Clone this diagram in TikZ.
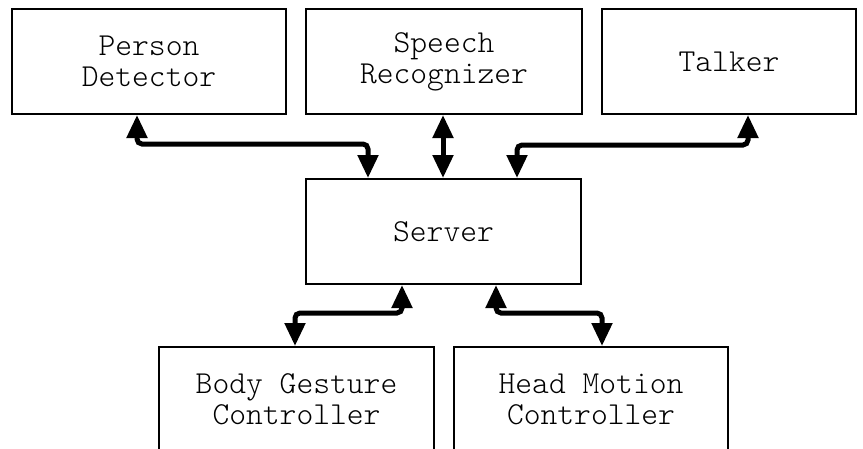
\documentclass[tikz,border=0pt]{standalone}
\usepackage{fontspec}
\newfontfamily\lightmono{Latin Modern Mono Light}
\usetikzlibrary{arrows.meta}
\begin{document}
\begin{tikzpicture}[x=1pt,y=-1pt,
  module/.style={draw=black, line width=2pt, rectangle, anchor=north west,
    inner sep=0pt, align=center,
    font=\lightmono\fontsize{32}{31}\selectfont},
  link/.style={line width=5pt, rounded corners=5pt,
    {Triangle[width=20pt,length=23pt]}-{Triangle[width=20pt,length=23pt]}}
]
\useasboundingbox (0,0) rectangle (863,448);
\begin{scope}
\clip (0,0) rectangle (863,448);
% top row
\node[module, minimum width=274pt, minimum height=105pt] (pd) at (11,8) {Person\\Detector};
\node[module, minimum width=276pt, minimum height=105pt] (sr) at (305,8) {Speech\\Recognizer};
\node[module, minimum width=254pt, minimum height=105pt] (tk) at (601,8) {Talker};
% centre
\node[module, minimum width=275pt, minimum height=105pt] (srv) at (305,178) {Server};
% bottom row
\node[module, minimum width=275pt, minimum height=105pt] (bg) at (158,346) {Body Gesture\\Controller};
\node[module, minimum width=274pt, minimum height=105pt] (hm) at (453,346) {Head Motion\\Controller};
\end{scope}
% bend points of the links
\coordinate (m1) at (368,144);
\coordinate (m3) at (517,145);
\coordinate (m4) at (295,313);
\coordinate (m5) at (602,313);
% links to the server
\draw[link] ([xshift=126pt]pd.south west) |- (m1) -- ([xshift=63pt]srv.north west);
\draw[link] ([xshift=138pt]sr.south west) -- ([xshift=138pt]srv.north west);
\draw[link] ([xshift=147pt]tk.south west) |- (m3) -- ([xshift=212pt]srv.north west);
\draw[link] ([xshift=97pt]srv.south west) |- (m4) -- ([xshift=137pt]bg.north west);
\draw[link] ([xshift=191pt]srv.south west) |- (m5) -- ([xshift=149pt]hm.north west);
\end{tikzpicture}
\end{document}
